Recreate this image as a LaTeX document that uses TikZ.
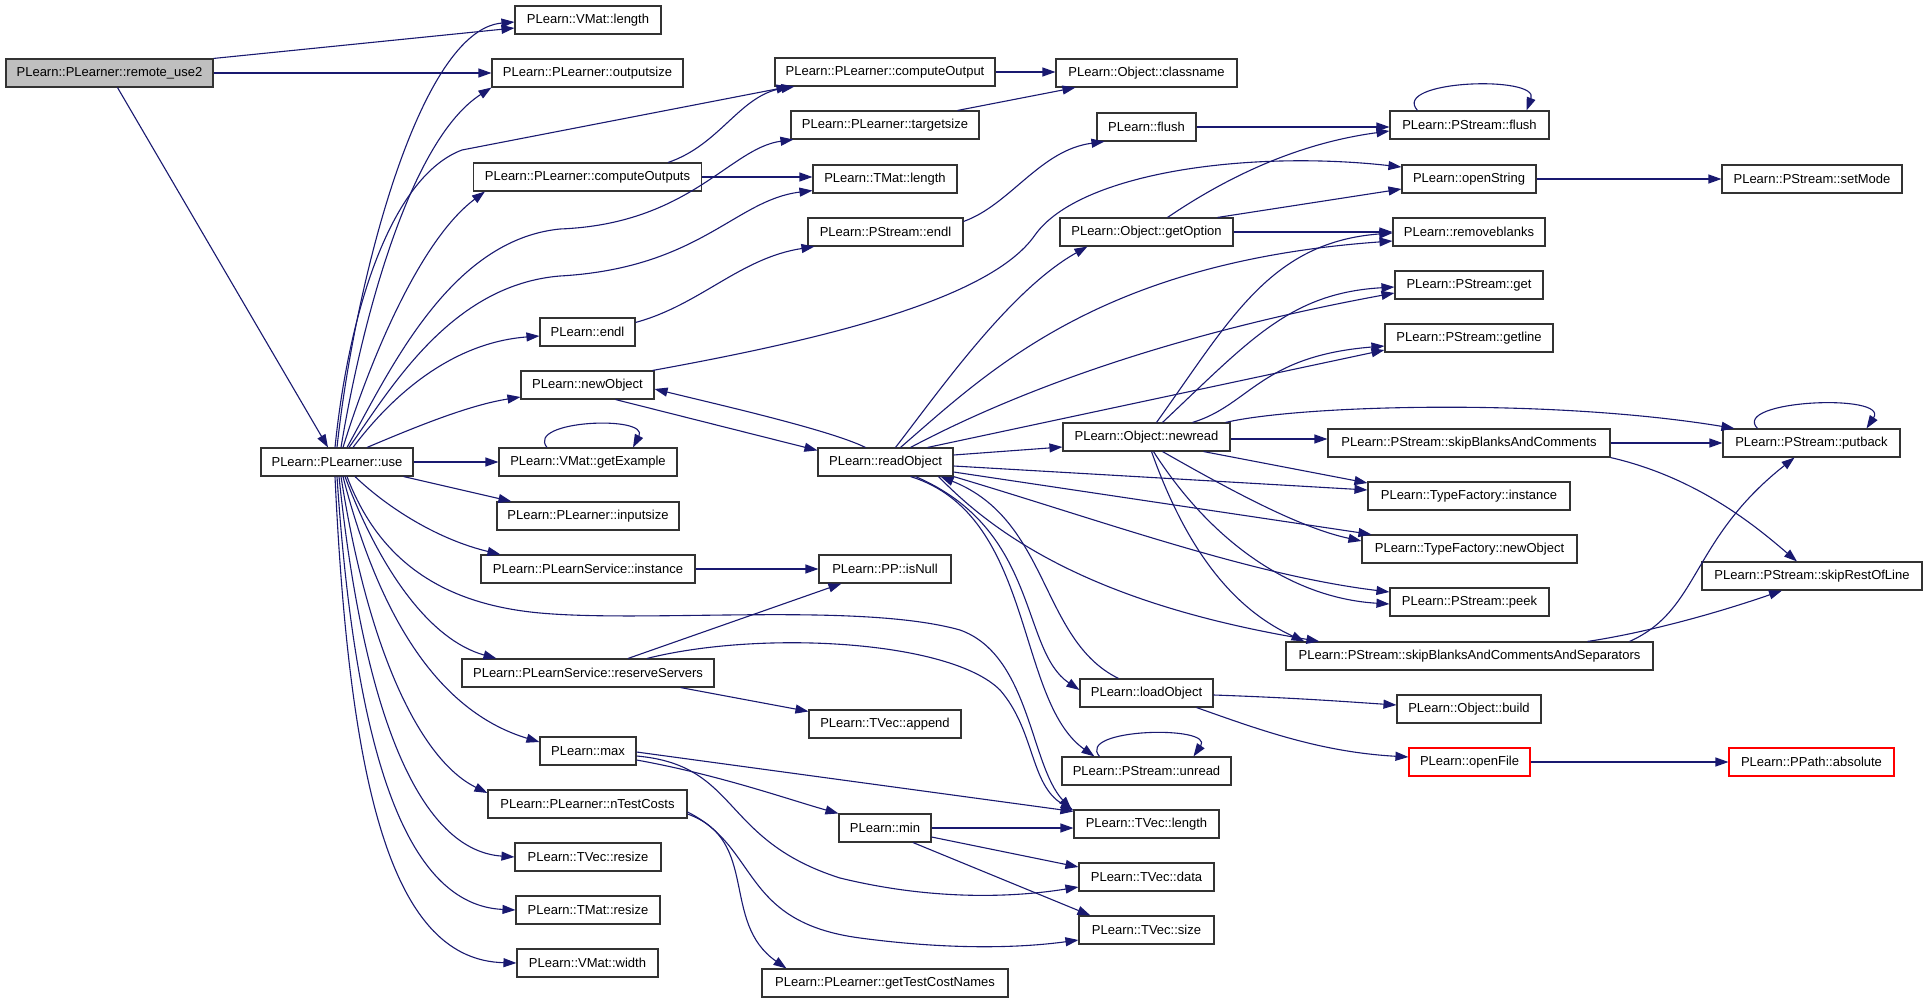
\documentclass[tikz,border=0pt]{standalone}
\usepackage{fontspec}
\setmainfont{Liberation Sans}
\usetikzlibrary{arrows.meta}
\definecolor{navy}{RGB}{25,25,112}
\begin{document}
\begin{tikzpicture}[x=1pt,y=-1pt,
  nd/.style={draw=black!80, line width=1.1pt, inner sep=0pt, minimum height=28pt, fill=white, font=\fontsize{13}{15}\selectfont},
  redbox/.style={nd, draw=red},
  e/.style={draw=navy, line width=1.1pt, -{Triangle[length=13pt,width=9pt]}}]
\useasboundingbox (0,0) rectangle (1928,1003);
\fill[white] (0,0) rectangle (1928,1003);
% nodes
\node[nd, fill=black!25, minimum width=207] (ru2) at (109.5,73) {PLearn::PLearner::remote\_use2};
\node[nd, minimum width=146] (vml) at (588,20) {PLearn::VMat::length};
\node[nd, minimum width=191] (outsz) at (587.5,73) {PLearn::PLearner::outputsize};
\node[nd, minimum width=220] (cout) at (885,72) {PLearn::PLearner::computeOutput};
\node[nd, minimum width=188] (tsz) at (885,125) {PLearn::PLearner::targetsize};
\node[nd, minimum width=228] (couts) at (587.5,177) {PLearn::PLearner::computeOutputs};
\node[nd, minimum width=144] (tml) at (885,179) {PLearn::TMat::length};
\node[nd, minimum width=155] (pendl) at (885.5,232) {PLearn::PStream::endl};
\node[nd, minimum width=95] (endl) at (587.5,332) {PLearn::endl};
\node[nd, minimum width=181] (cls) at (1146.5,73) {PLearn::Object::classname};
\node[nd, minimum width=99] (flush) at (1146.5,127) {PLearn::flush};
\node[nd, minimum width=159] (psflush) at (1469.5,125) {PLearn::PStream::flush};
\node[nd, minimum width=134] (opens) at (1469,179) {PLearn::openString};
\node[nd, minimum width=173] (getopt) at (1146.5,232) {PLearn::Object::getOption};
\node[nd, minimum width=152] (rmb) at (1469,232) {PLearn::removeblanks};
\node[nd, minimum width=148] (get) at (1469,285) {PLearn::PStream::get};
\node[nd, minimum width=168] (getline) at (1469,338) {PLearn::PStream::getline};
\node[nd, minimum width=180] (setmode) at (1812,179) {PLearn::PStream::setMode};
\node[nd, minimum width=152] (use) at (337,462) {PLearn::PLearner::use};
\node[nd, minimum width=133] (newobj) at (587.5,385) {PLearn::newObject};
\node[nd, minimum width=178] (getex) at (588,462) {PLearn::VMat::getExample};
\node[nd, minimum width=182] (insz) at (588,516) {PLearn::PLearner::inputsize};
\node[nd, minimum width=214] (psinst) at (588,569) {PLearn::PLearnService::instance};
\node[nd, minimum width=135] (readobj) at (885.5,462) {PLearn::readObject};
\node[nd, minimum width=132] (isnull) at (885,569) {PLearn::PP::isNull};
\node[nd, minimum width=252] (reserve) at (588,673) {PLearn::PLearnService::reserveServers};
\node[nd, minimum width=167] (newread) at (1146.5,437) {PLearn::Object::newread};
\node[nd, minimum width=282] (sbac) at (1469,443) {PLearn::PStream::skipBlanksAndComments};
\node[nd, minimum width=202] (tfinst) at (1469,496) {PLearn::TypeFactory::instance};
\node[nd, minimum width=215] (tfnew) at (1469.5,549) {PLearn::TypeFactory::newObject};
\node[nd, minimum width=159] (peek) at (1469.5,602) {PLearn::PStream::peek};
\node[nd, minimum width=367] (sbacs) at (1469.5,656) {PLearn::PStream::skipBlanksAndCommentsAndSeparators};
\node[nd, minimum width=177] (putback) at (1811.5,443) {PLearn::PStream::putback};
\node[nd, minimum width=220] (srol) at (1812,576) {PLearn::PStream::skipRestOfLine};
\node[nd, minimum width=96] (max) at (588,751) {PLearn::max};
\node[nd, minimum width=199] (ntc) at (587.5,804) {PLearn::PLearner::nTestCosts};
\node[nd, minimum width=146] (tvresize) at (588,857) {PLearn::TVec::resize};
\node[nd, minimum width=144] (tmresize) at (588,910) {PLearn::TMat::resize};
\node[nd, minimum width=141] (vmwidth) at (587.5,963) {PLearn::VMat::width};
\node[nd, minimum width=133] (loadobj) at (1146.5,693) {PLearn::loadObject};
\node[nd, minimum width=152] (append) at (885,724) {PLearn::TVec::append};
\node[nd, minimum width=169] (unread) at (1146.5,771) {PLearn::PStream::unread};
\node[nd, minimum width=92] (min) at (885,828) {PLearn::min};
\node[nd, minimum width=145] (tvlen) at (1146.5,824) {PLearn::TVec::length};
\node[nd, minimum width=135] (tvdata) at (1146.5,877) {PLearn::TVec::data};
\node[nd, minimum width=135] (tvsize) at (1146.5,930) {PLearn::TVec::size};
\node[nd, minimum width=246] (gtcn) at (885,983) {PLearn::PLearner::getTestCostNames};
\node[nd, minimum width=144] (build) at (1469,709) {PLearn::Object::build};
\node[redbox, minimum width=121] (openfile) at (1469.5,762) {PLearn::openFile};
\node[redbox, minimum width=165] (absolute) at (1811.5,762) {PLearn::PPath::absolute};
% edges from remote_use2
\draw[e] (ru2.north east) -- ([yshift=-8]vml.west);
\draw[e] (ru2) -- (outsz);
\draw[e] ([xshift=8]ru2.south) -- ([xshift=-9]use.north);
% edges from use
\draw[e] (use.north) .. controls (355,280) and (420,30) .. ([yshift=-2]vml.west);
\draw[e] ([xshift=4]use.north) .. controls (362,320) and (410,140) .. (outsz.south west);
\draw[e] ([xshift=-2]use.north) .. controls (350,300) and (395,175) .. (462,150) -- ([xshift=15]cout.south west);
\draw[e] ([xshift=6]use.north) .. controls (370,360) and (420,240) .. ([xshift=12]couts.south west);
\draw[e] ([xshift=10]use.north) .. controls (390,370) and (450,240) .. (560,229) .. controls (690,224) and (730,148) .. ([xshift=3]tsz.south west);
\draw[e] ([xshift=12]use.north) .. controls (390,390) and (450,285) .. (560,276) .. controls (700,268) and (735,200) .. ([yshift=3]tml.south west);
\draw[e] ([xshift=16]use.north) .. controls (400,385) and (460,342) .. ([yshift=-4]endl.west);
\draw[e] ([xshift=30]use.north) .. controls (420,425) and (470,405) .. ([yshift=-12]newobj.west);
\draw[e] (use) -- (getex);
\draw[e] ([xshift=-10]use.south east) -- ([xshift=15]insz.north west);
\draw[e] ([xshift=18]use.south) .. controls (390,510) and (440,540) .. ([xshift=20]psinst.north west);
\draw[e] ([xshift=10]use.south) .. controls (375,550) and (430,603) .. (540,613) .. controls (650,623) and (860,602) .. (960,630) .. controls (1030,655) and (1030,765) .. ([xshift=-2]tvlen.north west);
\draw[e] ([xshift=8]use.south) .. controls (380,570) and (430,640) .. ([xshift=35]reserve.north west);
\draw[e] ([xshift=6]use.south) .. controls (380,620) and (440,712) .. ([yshift=9]max.west);
\draw[e] ([xshift=4]use.south) .. controls (368,650) and (420,760) .. ([yshift=11]ntc.west);
\draw[e] ([xshift=2]use.south) .. controls (362,700) and (415,850) .. (tvresize.west);
\draw[e] (use.south) .. controls (355,750) and (405,905) .. (tmresize.west);
\draw[e] ([xshift=-2]use.south) .. controls (350,800) and (395,960) .. (vmwidth.west);
% second column
\draw[e] ([xshift=-34]couts.north east) .. controls (720,145) and (740,95) .. ([xshift=20]cout.south west);
\draw[e] (couts.east) -- (couts.east -| tml.west);
\draw[e] (cout.east) -- (cout.east -| cls.west);
\draw[e] ([xshift=-22]tsz.north east) -- ([xshift=20]cls.south west);
\draw[e] ([yshift=-5]endl.north east) .. controls (700,305) and (740,258) .. ([xshift=7]pendl.south west);
\draw[e] ([yshift=-4]pendl.north east) .. controls (1010,205) and (1040,150) .. ([xshift=8]flush.south west);
\draw[e] (flush.east) -- (flush.east -| psflush.west);
\draw[e] ([xshift=-52]psflush.north) .. controls (1390,80) and (1540,75) .. ([xshift=57]psflush.north);
\draw[e] (opens) -- (setmode);
\draw[e] ([xshift=21]getopt.north) .. controls (1230,175) and (1300,143) .. ([yshift=-6]psflush.west);
\draw[e] ([xshift=71]getopt.north) -- ([yshift=-10]opens.west);
\draw[e] (getopt) -- (rmb);
\draw[e] ([xshift=-2]newobj.north east) .. controls (820,340) and (990,300) .. (1035,235) .. controls (1080,172) and (1250,150) .. ([yshift=12]opens.west);
\draw[e] ([xshift=28]newobj.south) -- ([yshift=-3]readobj.north west);
\draw[e] ([xshift=-20]readobj.north) .. controls (830,430) and (720,405) .. ([yshift=-4]newobj.east);
\draw[e] ([xshift=-41]getex.north) .. controls (525,420) and (650,415) .. ([xshift=45]getex.north);
% readObject
\draw[e] ([xshift=10]readobj.north) .. controls (940,390) and (1010,290) .. ([xshift=28]getopt.south west);
\draw[e] ([xshift=15]readobj.north) .. controls (990,370) and (1100,262) .. ([yshift=-9]rmb.west);
\draw[e] ([xshift=25]readobj.north) .. controls (1000,400) and (1150,338) .. ([yshift=-8]get.west);
\draw[e] ([xshift=-26]readobj.north east) -- ([yshift=-12]getline.west);
\draw[e] ([yshift=7]readobj.east) -- ([yshift=-10]newread.west);
\draw[e] ([yshift=-4]readobj.east) -- ([yshift=6]tfinst.west);
\draw[e] ([yshift=-10]readobj.east) -- ([xshift=10]tfnew.north west);
\draw[e] (readobj.south east) .. controls (1100,520) and (1250,575) .. ([yshift=10]peek.west);
\draw[e] ([xshift=-15]readobj.south east) .. controls (1000,540) and (1100,605) .. ([xshift=34]sbacs.north west);
\draw[e] ([xshift=30]readobj.south) .. controls (1040,530) and (1020,650) .. ([yshift=3]loadobj.west);
\draw[e] ([xshift=25]readobj.south) .. controls (1035,515) and (1015,700) .. ([xshift=33]unread.north west);
\draw[e] ([xshift=-28]loadobj.north) .. controls (1040,640) and (1050,520) .. ([xshift=-13]readobj.south east);
\draw[e] ([xshift=-47]unread.north) .. controls (1075,728) and (1215,725) .. ([xshift=47]unread.north);
\draw[e] ([yshift=-2]loadobj.east) .. controls (1300,698) and (1350,702) .. ([yshift=4]build.west);
\draw[e] ([xshift=-17]loadobj.south east) .. controls (1260,730) and (1320,752) .. ([yshift=5]openfile.west);
\draw[e] (openfile) -- (absolute);
% newread
\draw[e] ([xshift=10]newread.north) .. controls (1230,320) and (1270,242) .. ([yshift=-1]rmb.west);
\draw[e] ([xshift=16]newread.north) .. controls (1250,340) and (1290,293) .. ([yshift=-2]get.west);
\draw[e] ([xshift=46]newread.north) .. controls (1250,405) and (1260,356) .. ([yshift=-8]getline.west);
\draw[e] ([xshift=-5]newread.north east) .. controls (1300,405) and (1550,398) .. ([xshift=12]putback.north west);
\draw[e] ([yshift=-2]newread.east) -- ([yshift=4]sbac.west);
\draw[e] ([xshift=-27]newread.south east) -- ([yshift=13]tfinst.west);
\draw[e] ([xshift=16]newread.south) .. controls (1230,490) and (1300,528) .. ([yshift=8]tfnew.west);
\draw[e] ([xshift=7]newread.south) .. controls (1210,540) and (1290,598) .. ([yshift=-2]peek.west);
\draw[e] ([xshift=5]newread.south) .. controls (1190,560) and (1240,612) .. ([xshift=19]sbacs.north west);
% right side
\draw[e] (sbac) -- (putback);
\draw[e] (sbac.south east) .. controls (1700,478) and (1760,530) .. ([xshift=-15]srol.north);
\draw[e] ([xshift=-54]putback.north) .. controls (1730,400) and (1890,393) .. ([xshift=55]putback.north);
\draw[e] ([xshift=160]sbacs.north) .. controls (1700,610) and (1690,540) .. ([xshift=-17]putback.south);
\draw[e] ([xshift=118]sbacs.north) .. controls (1650,632) and (1720,612) .. ([xshift=-30]srol.south);
% lower part
\draw[e] ([yshift=-9]max.east) .. controls (720,775) and (790,800) .. (min.north west);
\draw[e] ([yshift=-1]max.east) -- ([yshift=-2]tvlen.north west);
\draw[e] ([yshift=-5]max.east) .. controls (740,765) and (720,840) .. (840,878) .. controls (930,900) and (1010,898) .. ([yshift=-10]tvdata.west);
\draw[e] ([yshift=-10]ntc.east) .. controls (760,840) and (720,922) .. ([xshift=25]gtcn.north west);
\draw[e] ([yshift=-8]ntc.east) .. controls (760,848) and (740,922) .. (860,938) .. controls (950,950) and (1020,948) .. ([yshift=-10]tvsize.west);
\draw[e] (min.east) -- (min.east -| tvlen.west);
\draw[e] ([yshift=-9]min.east) -- ([yshift=10]tvdata.west);
\draw[e] ([xshift=28]min.south) -- ([xshift=12]tvsize.north west);
\draw[e] (psinst) -- (isnull);
\draw[e] ([xshift=40]reserve.north) -- ([xshift=23]isnull.south west);
\draw[e] ([xshift=59]reserve.north) .. controls (760,630) and (950,640) .. (1000,690) .. controls (1035,730) and (1030,785) .. ([yshift=-1]tvlen.north west);
\draw[e] ([xshift=-34]reserve.south east) -- ([yshift=-2]append.north west);
\end{tikzpicture}
\end{document}
